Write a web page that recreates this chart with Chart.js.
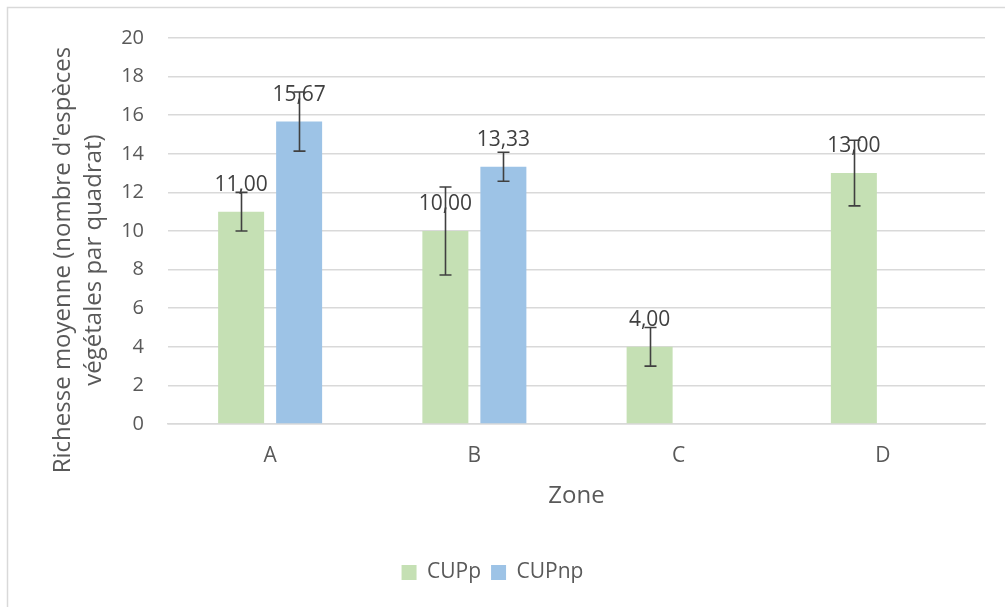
<!DOCTYPE html>
<html>
<head>
<meta charset="utf-8">
<script src="https://cdn.jsdelivr.net/npm/chart.js@4.4.1/dist/chart.umd.min.js"></script>
<style>
  html, body { margin: 0; padding: 0; background: #ffffff; }
  #wrap { position: relative; width: 1005px; height: 607px; }
  canvas { display: block; }
</style>
</head>
<body>
<div id="wrap"><canvas id="c" width="1005" height="607"></canvas></div>
<script>
const categories = ['A', 'B', 'C', 'D'];
const seriesNames = ['CUPp', 'CUPnp'];
const cupP = [11.00, 10.00, 4.00, 13.00];
const cupNP = [15.67, 13.33, null, null];
const cupPErr = [1.0, 2.28, 1.0, 1.7];
const cupNPErr = [1.53, 0.75, null, null];
const yTicks = [0, 2, 4, 6, 8, 10, 12, 14, 16, 18, 20];
const yTitleLines = ["Richesse moyenne (nombre d'espèces", "végétales par quadrat)"];
const xTitle = 'Zone';

const TEXT = '#595959';
const FONT = '"Open Sans", "DejaVu Sans", sans-serif';

const errors = [cupPErr, cupNPErr];

const extras = {
  id: 'extras',
  beforeDraw(chart) {
    const ctx = chart.ctx;
    ctx.save();
    ctx.strokeStyle = '#d9d9d9';
    ctx.lineWidth = 1.5;
    ctx.beginPath();
    ctx.moveTo(7.5, 607);
    ctx.lineTo(7.5, 7.5);
    ctx.lineTo(1005, 7.5);
    ctx.stroke();
    ctx.restore();
  },
  afterDatasetsDraw(chart) {
    const ctx = chart.ctx;
    const ys = chart.scales.y;
    ctx.save();
    ctx.font = '21px ' + FONT;
    ctx.fillStyle = '#404040';
    ctx.textAlign = 'center';
    ctx.textBaseline = 'middle';
    chart.data.datasets.forEach((ds, i) => {
      const meta = chart.getDatasetMeta(i);
      meta.data.forEach((el, j) => {
        const v = ds.data[j];
        if (v === null || v === undefined) return;
        ctx.fillText(v.toFixed(2).replace('.', ','), el.x, el.y - 27);
      });
    });
    ctx.strokeStyle = '#404040';
    ctx.lineWidth = 1.6;
    chart.data.datasets.forEach((ds, i) => {
      const meta = chart.getDatasetMeta(i);
      meta.data.forEach((el, j) => {
        const v = ds.data[j];
        const e = errors[i][j];
        if (v === null || v === undefined || e === null) return;
        const yt = ys.getPixelForValue(v + e);
        const yb = ys.getPixelForValue(v - e);
        const x = Math.round(el.x) + 0.5;
        ctx.beginPath();
        ctx.moveTo(x, yt); ctx.lineTo(x, yb);
        ctx.moveTo(x - 6, yt); ctx.lineTo(x + 6, yt);
        ctx.moveTo(x - 6, yb); ctx.lineTo(x + 6, yb);
        ctx.stroke();
      });
    });
    ctx.restore();
  },
  afterDraw(chart) {
    const ctx = chart.ctx;
    ctx.save();
    ctx.font = '24px ' + FONT;
    ctx.fillStyle = TEXT;
    ctx.textAlign = 'center';
    ctx.textBaseline = 'middle';
    const cy = 260;
    const xs = [63, 94];
    yTitleLines.forEach((t, k) => {
      ctx.save();
      ctx.translate(xs[k], cy);
      ctx.rotate(-Math.PI / 2);
      ctx.fillText(t, 0, 0);
      ctx.restore();
    });
    ctx.restore();
  }
};

new Chart(document.getElementById('c'), {
  type: 'bar',
  data: {
    labels: categories,
    datasets: [
      { label: seriesNames[0], data: cupP, backgroundColor: '#c5e0b4', borderWidth: 0,
        categoryPercentage: 0.568, barPercentage: 0.793 },
      { label: seriesNames[1], data: cupNP, backgroundColor: '#9dc3e6', borderWidth: 0,
        categoryPercentage: 0.568, barPercentage: 0.793 }
    ]
  },
  options: {
    responsive: false,
    animation: false,
    devicePixelRatio: 1,
    layout: { padding: { left: 0, right: 20, top: 38, bottom: 14 } },
    plugins: {
      legend: {
        position: 'bottom',
        labels: {
          boxWidth: 15, boxHeight: 15, padding: 10,
          color: TEXT, font: { family: FONT, size: 21 }
        }
      },
      tooltip: { enabled: false }
    },
    scales: {
      x: {
        grid: { display: false, drawTicks: false },
        border: { display: true, color: '#d9d9d9', width: 1.5 },
        ticks: { color: TEXT, font: { family: FONT, size: 21 }, padding: 19 },
        title: { display: true, text: xTitle, color: TEXT, font: { family: FONT, size: 24 }, padding: { top: 4, bottom: 41.6 } },
        afterFit(s) { s.height = 128; }
      },
      y: {
        min: 0, max: 20,
        afterBuildTicks(s) { s.ticks = yTicks.map(v => ({ value: v })); },
        grid: { color: '#d9d9d9', lineWidth: 1.5, drawTicks: false },
        border: { display: false },
        ticks: { color: TEXT, font: { family: FONT, size: 20 }, padding: 24 },
        afterFit(s) { s.width = 168; }
      }
    }
  },
  plugins: [extras]
});
</script>
</body>
</html>
